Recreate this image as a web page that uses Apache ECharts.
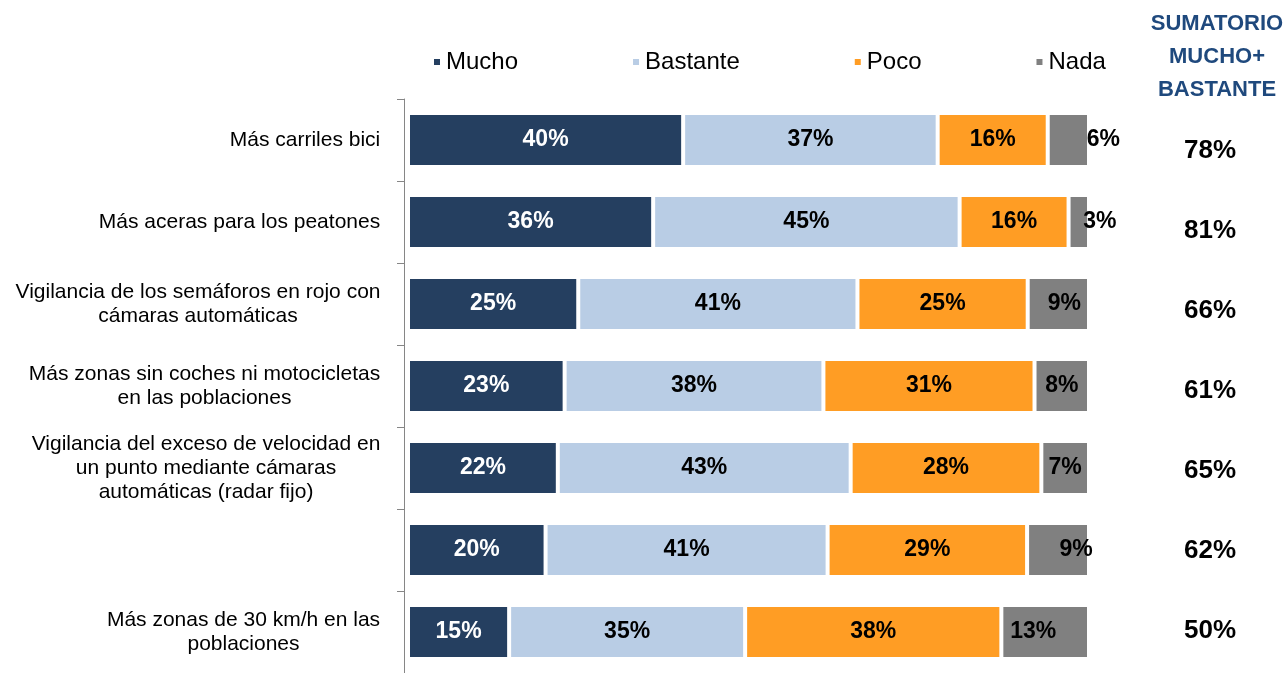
<!DOCTYPE html>
<html>
<head>
<meta charset="utf-8">
<script src="https://cdn.jsdelivr.net/npm/echarts@6/dist/echarts.min.js"></script>
<style>html,body{margin:0;padding:0;background:#fff;}#c{width:1285px;height:673px;}</style>
</head>
<body>
<div id="c"></div>
<script>
// ---- data ----
const categories = [
  'Más carriles bici',
  'Más aceras para los peatones',
  'Vigilancia de los semáforos en rojo con\ncámaras automáticas',
  'Más zonas sin coches ni motocicletas\nen las poblaciones',
  'Vigilancia del exceso de velocidad en\nun punto mediante cámaras\nautomáticas (radar fijo)',
  '',
  'Más zonas de 30 km/h en las\npoblaciones'
];
const seriesNames = ['Mucho', 'Bastante', 'Poco', 'Nada'];
const mucho    = [40, 36, 25, 23, 22, 20, 15];
const bastante = [37, 45, 41, 38, 43, 41, 35];
const poco     = [16, 16, 25, 31, 28, 29, 38];
const nada     = [6, 3, 9, 8, 7, 9, 13];
const sumatorio = [78, 81, 66, 61, 65, 62, 50];
const sumTitle = 'SUMATORIO\nMUCHO+\nBASTANTE';

// ---- layout / style constants ----
const colors = ['#253F60', '#B9CDE5', '#FF9D24', '#808080'];
const labelColors = ['#FFFFFF', '#000000', '#000000', '#000000'];
const nadaLabelShift = [35, 21, 6, 0, 0, 18, -12];
const catFont = '"Liberation Sans", Arial, sans-serif';
const catSize = 21;

const allVals = [mucho, bastante, poco, nada];
const totals = categories.map((_, i) => allVals.reduce((s, a) => s + a[i], 0));

// measure widths for centered multi-line labels
const cv = document.createElement('canvas').getContext('2d');
cv.font = catSize + 'px ' + catFont;
const rich = {};
categories.forEach((c, i) => {
  const w = Math.max(1, ...c.split('\n').map(l => cv.measureText(l).width));
  rich['r' + i] = { width: Math.ceil(w) + 1, align: 'center', fontSize: catSize, lineHeight: 24, fontFamily: catFont, color: '#000' };
});

const series = allVals.map((arr, k) => ({
  name: seriesNames[k],
  type: 'bar',
  stack: 'total',
  barWidth: 54,
  xAxisIndex: 0,
  yAxisIndex: 0,
  itemStyle: { color: colors[k], borderColor: '#ffffff', borderWidth: 2 },
  label: {
    show: true,
    position: 'inside',
    color: labelColors[k],
    fontWeight: 'bold',
    fontSize: 23,
    fontFamily: catFont,
    formatter: p => arr[p.dataIndex] + '%'
  },
  data: arr.map((v, i) => {
    const item = { value: v / totals[i] * 100 };
    if (k === 3) item.label = { offset: [nadaLabelShift[i], 0] };
    return item;
  })
}));

const chart = echarts.init(document.getElementById('c'));
chart.setOption({
  animation: false,
  backgroundColor: '#ffffff',
  title: {
    text: sumTitle,
    left: 1212,
    top: 2,
    textAlign: 'center',
    textStyle: { color: '#1F497D', fontWeight: 'bold', fontSize: 22, lineHeight: 33, fontFamily: catFont }
  },
  legend: {
    data: seriesNames,
    left: 432,
    top: 49,
    padding: 0,
    icon: 'rect',
    itemWidth: 8,
    itemHeight: 8,
    itemGap: 113,
    textStyle: { fontSize: 24, fontFamily: catFont, color: '#000', lineHeight: 26 }
  },
  grid: [
    { left: 404, right: 196, top: 99, bottom: 0, containLabel: false },
    { left: 1089, width: 10, top: 111, height: 560, containLabel: false }
  ],
  xAxis: [
    { type: 'value', gridIndex: 0, min: -0.587, max: 100, show: false },
    { type: 'value', gridIndex: 1, min: 0, max: 1, show: false }
  ],
  yAxis: [
    {
      type: 'category',
      gridIndex: 0,
      data: categories,
      inverse: true,
      axisLine: { show: true, onZero: false, lineStyle: { color: '#868686', width: 1 } },
      axisTick: { show: true, length: 7, lineStyle: { color: '#868686' } },
      axisLabel: {
        margin: 23,
        interval: 0,
        formatter: (v, i) => v ? '{r' + i + '|' + v + '}' : '',
        rich: rich
      }
    },
    {
      type: 'category',
      gridIndex: 1,
      data: sumatorio.map(v => v + '%'),
      inverse: true,
      position: 'right',
      axisLine: { show: false },
      axisTick: { show: false },
      axisLabel: {
        margin: 111,
        align: 'center',
        interval: 0,
        fontSize: 26,
        fontWeight: 'bold',
        fontFamily: catFont,
        color: '#000'
      }
    }
  ],
  series: series
});
</script>
</body>
</html>
